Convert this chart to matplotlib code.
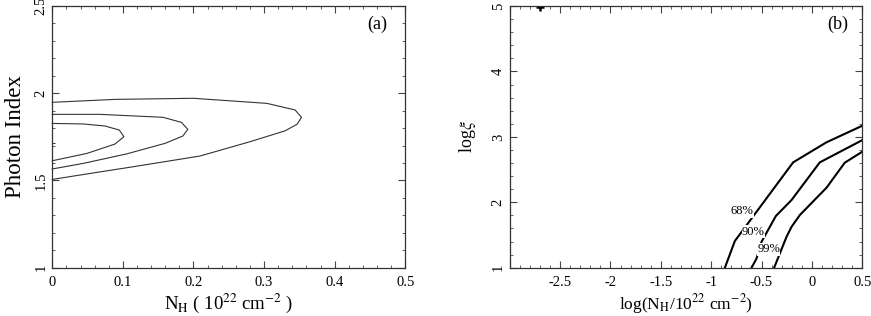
import matplotlib
matplotlib.use("Agg")
import matplotlib.pyplot as plt
from matplotlib.ticker import MultipleLocator, FuncFormatter

plt.rcParams['font.family'] = ['Liberation Serif', 'DejaVu Serif']
plt.rcParams['mathtext.fontset'] = 'stix'
plt.rcParams['axes.unicode_minus'] = False

# -----------------------------
# panel (a): N_H vs photon index contours
# -----------------------------
c99_nh = [0.0, 0.09, 0.2, 0.304, 0.344, 0.353, 0.347, 0.33, 0.28, 0.209, 0.115, 0.039, 0.0]
c99_gam = [1.948, 1.965, 1.971, 1.942, 1.904, 1.862, 1.823, 1.785, 1.722, 1.64, 1.579, 1.531, 1.506]
c90_nh = [0.0, 0.0675, 0.157, 0.183, 0.192, 0.185, 0.16, 0.105, 0.044, 0.0]
c90_gam = [1.879, 1.879, 1.862, 1.833, 1.793, 1.755, 1.713, 1.652, 1.598, 1.566]
c68_nh = [0.0, 0.044, 0.075, 0.095, 0.1015, 0.089, 0.049, 0.0]
c68_gam = [1.827, 1.824, 1.812, 1.789, 1.751, 1.709, 1.655, 1.613]
best_a = (0.0, 1.716)

# -----------------------------
# panel (b): log N_H vs log xi
# -----------------------------
b68_x = [-0.864, -0.765, -0.186, 0.145, 0.5]
b68_y = [1.0, 1.408, 2.611, 2.917, 3.17]
b90_x = [-0.599, -0.55, -0.50, -0.358, -0.202, 0.078, 0.5]
b90_y = [1.0, 1.14, 1.397, 1.79, 2.035, 2.61, 2.95]
b99_x = [-0.375, -0.252, -0.202, -0.12, 0.145, 0.326, 0.5]
b99_y = [1.0, 1.473, 1.626, 1.805, 2.223, 2.605, 2.773]
best_b = (-2.70, 4.99)
levels = ["68%", "90%", "99%"]
label_pos = [(-0.69, 1.86), (-0.58, 1.55), (-0.43, 1.28)]

fig = plt.figure(figsize=(8.71, 3.16), dpi=100)
ax1 = fig.add_axes([0.0600, 0.1528, 0.4053, 0.8282])
ax2 = fig.add_axes([0.5852, 0.1528, 0.4048, 0.8282])

fmt = FuncFormatter(lambda v, p: "%g" % round(v, 3))
fmt_b = FuncFormatter(lambda v, p: "" if v < -2.9 else "%g" % round(v, 3))

lc = "#333333"
for x, y in [(c99_nh, c99_gam), (c90_nh, c90_gam), (c68_nh, c68_gam)]:
    ax1.plot(x, y, color=lc, lw=0.8, clip_on=False)
ax1.plot(*best_a, marker="+", color=lc, ms=4, mew=0.7, clip_on=True)
ax1.set_xlim(0, 0.5)
ax1.set_ylim(1, 2.5)
ax1.xaxis.set_major_locator(MultipleLocator(0.1))
ax1.xaxis.set_minor_locator(MultipleLocator(0.02))
ax1.yaxis.set_major_locator(MultipleLocator(0.5))
ax1.yaxis.set_minor_locator(MultipleLocator(0.1))
ax1.xaxis.set_major_formatter(fmt)
ax1.set_xlabel(r"N$_{\rm H}$ ( 10$^{22}$ cm$^{-2}$ )", fontsize=13.5, labelpad=2)
ax1.set_ylabel("Photon Index", fontsize=16.5, labelpad=6)
ax1.text(0.92, 0.93, "(a)", transform=ax1.transAxes, fontsize=13, ha="center", va="center")

for x, y in [(b68_x, b68_y), (b90_x, b90_y), (b99_x, b99_y)]:
    ax2.plot(x, y, color="black", lw=1.5)
for lab, (lx, ly) in zip(levels, label_pos):
    ax2.text(lx, ly, lab, fontsize=9, ha="center", va="center",
             bbox=dict(facecolor="white", edgecolor="none", pad=0.2))
ax2.plot(*best_b, marker="+", color="black", ms=6, mew=1.8)
ax2.set_xlim(-3, 0.5)
ax2.set_ylim(1, 5)
ax2.xaxis.set_major_locator(MultipleLocator(0.5))
ax2.xaxis.set_minor_locator(MultipleLocator(0.1))
ax2.yaxis.set_major_locator(MultipleLocator(1))
ax2.yaxis.set_minor_locator(MultipleLocator(0.2))
ax2.xaxis.set_major_formatter(fmt_b)
ax2.set_xlabel(r"log(N$_{\rm H}$/10$^{22}$ cm$^{-2}$)", fontsize=12.5, labelpad=2)
ax2.set_ylabel(r"log$\xi$", fontsize=13, labelpad=10)
ax2.text(0.93, 0.93, "(b)", transform=ax2.transAxes, fontsize=13, ha="center", va="center")

for ax in (ax1, ax2):
    ax.yaxis.set_major_formatter(fmt)
    ax.tick_params(which="both", direction="in", top=True, right=True, color="#444444", labelsize=10.5)
    ax.tick_params(which="major", length=5, width=0.8)
    ax.tick_params(which="minor", length=2.5, width=0.6)
    ax.tick_params(axis="x", pad=6)
    for lab in ax.get_yticklabels():
        lab.set_rotation(90)
        lab.set_va("center")
    for s in ax.spines.values():
        s.set_linewidth(0.9)
        s.set_color("#333333")

fig.savefig("out.png", dpi=100)
